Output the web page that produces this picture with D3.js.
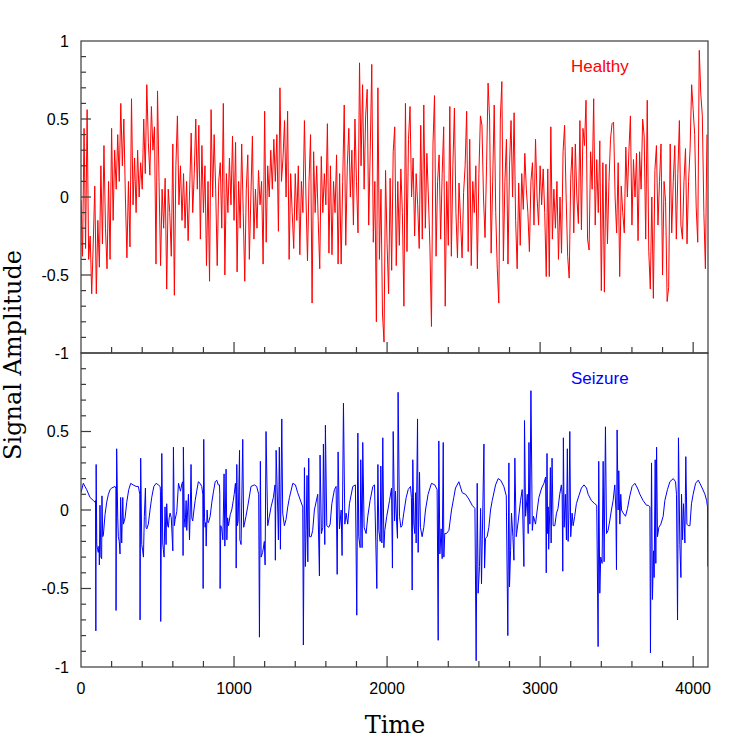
<!DOCTYPE html>
<html>
<head>
<meta charset="utf-8">
<script src="https://cdn.jsdelivr.net/npm/d3@7/dist/d3.min.js"></script>
<style>
  body { margin: 0; background: #fff; }
  .tick-label { font-family: 'Liberation Sans', Arial, sans-serif; font-size: 16px; fill: #000; }
  .axis-title { font-family: 'DejaVu Serif', serif; font-size: 24px; fill: #000; }
  .panel-label { font-family: 'Liberation Sans', Arial, sans-serif; font-size: 17px; }
</style>
</head>
<body>
<svg id="chart"></svg>
<script>
// ---- data ----
const timeMax = 4097;
const healthyStep = 10; // one value every 10 samples

// healthy EEG, t = 0, 10, 20 ... 4090 (one row = 100 samples)
const healthy = [
  -0.02, -0.38, 0.44, -0.33, 0.56, -0.4, -0.25, -0.62, -0.3, 0.07,
  -0.62, -0.15, -0.45, 0.2, -0.3, 0.33, -0.2, -0.46, 0.1, -0.4,
  0.44, -0.15, 0.3, 0.05, 0.4, 0.1, 0.6, 0.2, 0.5, 0.0,
  -0.39, 0.1, -0.32, 0.63, -0.05, 0.25, -0.1, 0.3, 0.0, 0.22,
  0.05, 0.5, 0.15, 0.72, 0.35, 0.14, 0.58, 0.3, 0.45, -0.43,
  0.68, 0.1, -0.44, 0.05, -0.2, 0.12, -0.59, 0.05, -0.1, -0.38,
  0.34, -0.63, 0.2, 0.52, -0.05, 0.2, -0.15, 0.15, -0.2, 0.1,
  -0.28, 0.05, 0.41, -0.1, 0.15, 0.5, 0.05, 0.46, -0.27, 0.33,
  -0.1, 0.2, -0.44, 0.1, -0.54, 0.56, 0.0, 0.4, 0.05, -0.44,
  0.1, 0.22, -0.2, 0.6, -0.5, 0.15, -0.1, 0.25, -0.05, 0.39,
  -0.15, 0.35, -0.48, 0.1, -0.2, 0.34, -0.1, -0.54, 0.05, 0.27,
  -0.4, 0.0, 0.39, -0.27, 0.05, -0.2, 0.17, -0.05, 0.1, -0.43,
  0.55, -0.29, 0.2, 0.0, 0.3, 0.05, 0.37, 0.1, 0.4, -0.22,
  0.7, 0.1, 0.25, 0.49, 0.0, 0.55, -0.4, 0.15, -0.1, -0.33,
  0.15, -0.15, 0.2, -0.37, 0.1, -0.1, 0.49, 0.0, -0.41, 0.1,
  0.4, -0.68, 0.29, -0.1, 0.2, -0.15, -0.46, 0.26, -0.1, 0.15,
  -0.05, 0.47, -0.36, 0.2, -0.37, 0.1, -0.1, 0.27, -0.43, 0.15,
  -0.43, 0.1, 0.59, -0.31, 0.2, 0.44, 0.0, 0.3, -0.18, 0.5,
  0.1, -0.23, 0.86, 0.2, 0.72, 0.05, 0.52, 0.69, -0.18, 0.3,
  0.85, -0.29, 0.1, -0.8, 0.7, -0.4, 0.05, -0.75, -0.93, 0.17,
  -0.3, -0.62, 0.12, -0.47, 0.29, 0.45, -0.44, 0.1, -0.31, 0.18,
  -0.1, -0.7, 0.6, -0.35, 0.37, 0.58, 0.0, 0.25, -0.25, 0.15,
  -0.05, -0.33, 0.46, -0.27, 0.59, -0.2, 0.28, 0.0, -0.32, -0.83,
  0.34, 0.65, -0.38, 0.1, 0.27, -0.27, 0.15, 0.45, -0.7, 0.1,
  -0.31, 0.58, -0.38, 0.2, 0.57, -0.1, -0.39, 0.09, -0.15, -0.39,
  0.03, 0.2, 0.55, -0.35, 0.37, -0.44, 0.1, -0.1, 0.2, -0.46,
  0.15, 0.52, 0.46, 0.0, -0.26, 0.2, 0.73, 0.5, -0.36, 0.1,
  0.59, -0.1, -0.46, -0.68, 0.5, 0.74, -0.41, 0.1, 0.37, -0.43,
  0.2, 0.49, 0.0, 0.54, -0.15, -0.46, 0.09, -0.31, 0.15, -0.08,
  0.28, 0.05, -0.1, -0.35, 0.1, 0.22, -0.18, 0.37, 0.0, -0.18,
  0.2, -0.05, 0.18, -0.1, -0.51, 0.18, -0.51, 0.45, -0.27, 0.05,
  -0.2, 0.1, -0.4, 0.0, -0.36, 0.29, 0.46, 0.0, -0.38, -0.52,
  0.12, 0.32, -0.23, 0.34, 0.0, -0.17, 0.49, -0.21, 0.44, 0.33,
  0.62, -0.27, -0.34, 0.29, 0.05, 0.63, -0.18, 0.24, -0.1, 0.36,
  -0.6, 0.22, -0.61, 0.21, -0.3, 0.1, 0.37, 0.47, 0.48, 0.0,
  -0.23, 0.22, -0.51, 0.07, -0.1, -0.23, 0.32, 0.0, 0.29, 0.52,
  -0.18, 0.24, 0.0, 0.28, -0.28, 0.29, 0.05, 0.5, 0.39, -0.27,
  0.62, -0.35, -0.59, 0.0, -0.65, 0.17, 0.33, -0.18, 0.1, 0.34,
  -0.5, 0.1, -0.03, -0.67, -0.58, 0.34, -0.23, 0.1, 0.33, -0.27,
  0.15, 0.49, -0.18, -0.27, 0.1, 0.31, -0.3, 0.1, 0.31, 0.72,
  0.56, 0.4, -0.07, -0.29, 0.94, 0.66, 0.52, -0.1, -0.46, 0.4
];

// seizure EEG as [time, amplitude] samples (dense at the spikes)
const seizure = [
  [0,0.11],[15,0.17],[37,0.13],[59,0.08],[81,0.06],[92,0.05],[95,0.06],[97,-0.77],[99,0.29],[103,-0.22],
  [108,-0.25],[113,-0.27],[118,-0.23],[120,-0.35],[124,0.03],[130,-0.3],[135,-0.31],[137,0.09],[142,-0.17],[146,-0.16],
  [157,-0.03],[168,0.05],[179,0.1],[190,0.13],[201,0.14],[222,0.15],[228,0.14],[229,-0.64],[233,0.39],[240,-0.05],
  [244,-0.17],[250,-0.2],[255,-0.28],[259,0.08],[266,-0.21],[273,0.08],[277,-0.09],[288,-0.05],[299,0.05],[312,0.13],
  [325,0.17],[340,0.16],[360,0.15],[375,0.15],[384,0.1],[386,-0.7],[390,0.33],[397,-0.22],[403,-0.26],[408,-0.3],
  [414,-0.04],[421,0.14],[425,-0.11],[430,-0.12],[440,-0.09],[451,0.0],[462,0.08],[476,0.15],[491,0.17],[505,0.16],
  [517,0.15],[519,0.12],[521,-0.71],[528,0.36],[534,-0.21],[538,-0.25],[543,-0.3],[549,0.02],[556,-0.22],[560,0.04],
  [566,-0.1],[571,-0.11],[576,-0.05],[582,-0.02],[590,-0.05],[600,-0.26],[604,0.4],[610,-0.1],[615,-0.06],[626,-0.01],
  [637,0.17],[650,0.12],[660,0.17],[665,0.18],[667,-0.29],[669,0.4],[675,-0.05],[680,-0.11],[687,0.06],[691,-0.13],
  [697,0.0],[702,0.1],[709,-0.19],[714,0.0],[719,0.29],[724,-0.05],[730,-0.07],[738,0.0],[746,0.06],[756,0.12],
  [767,0.18],[778,0.17],[789,0.15],[796,0.1],[798,-0.5],[802,0.45],[807,-0.05],[811,-0.11],[815,-0.08],[818,-0.23],
  [824,0.0],[829,-0.08],[833,-0.08],[844,-0.04],[855,0.05],[866,0.12],[877,0.18],[887,0.19],[897,0.16],[905,0.16],
  [907,0.1],[909,-0.5],[913,-0.1],[920,-0.12],[927,-0.19],[935,0.23],[940,-0.23],[948,0.26],[953,-0.19],[958,-0.05],
  [964,-0.1],[975,-0.03],[985,0.0],[995,0.06],[1001,0.1],[1009,0.17],[1012,0.1],[1014,-0.37],[1018,0.29],[1022,-0.1],
  [1027,-0.07],[1036,0.38],[1038,-0.19],[1046,-0.22],[1057,0.45],[1063,-0.11],[1068,-0.09],[1078,-0.04],[1089,0.02],[1111,0.15],
  [1133,0.16],[1148,0.15],[1161,0.1],[1166,-0.81],[1172,0.31],[1177,-0.3],[1187,-0.27],[1198,-0.2],[1203,-0.35],[1209,0.5],
  [1220,-0.1],[1231,-0.04],[1242,0.02],[1257,0.08],[1268,0.16],[1270,-0.32],[1275,0.38],[1286,-0.02],[1290,-0.19],[1296,0.4],
  [1303,-0.25],[1312,0.58],[1318,-0.02],[1329,-0.1],[1340,-0.06],[1351,0.02],[1362,0.08],[1384,0.17],[1401,0.16],[1416,0.11],
  [1438,0.05],[1449,0.02],[1453,-0.86],[1460,0.27],[1466,-0.36],[1471,-0.13],[1477,0.22],[1482,-0.33],[1488,0.33],[1493,-0.17],
  [1504,-0.17],[1514,-0.13],[1525,0.0],[1547,0.1],[1558,-0.42],[1562,0.35],[1571,-0.15],[1580,-0.11],[1584,0.42],[1593,-0.22],
  [1597,0.54],[1606,-0.1],[1619,-0.11],[1628,-0.09],[1639,0.04],[1656,0.13],[1667,0.15],[1674,-0.41],[1680,0.37],[1689,-0.12],
  [1700,0.0],[1706,-0.29],[1715,0.68],[1724,-0.09],[1732,-0.02],[1743,-0.09],[1754,0.04],[1776,0.15],[1793,0.16],[1802,-0.67],
  [1809,0.49],[1815,-0.17],[1824,-0.24],[1828,0.32],[1837,-0.24],[1841,0.43],[1850,-0.11],[1863,-0.15],[1874,-0.04],[1889,0.06],
  [1907,0.15],[1918,0.16],[1933,-0.5],[1940,0.29],[1946,-0.13],[1955,-0.2],[1959,0.28],[1966,-0.21],[1972,0.46],[1979,-0.24],
  [1985,-0.13],[1998,-0.04],[2016,0.06],[2029,0.14],[2035,-0.37],[2040,0.5],[2049,-0.07],[2055,0.12],[2062,-0.07],[2068,-0.18],
  [2072,0.75],[2081,-0.04],[2090,-0.11],[2098,-0.1],[2109,-0.02],[2125,0.08],[2138,0.13],[2153,0.15],[2159,0.08],[2164,-0.51],
  [2168,0.32],[2175,-0.09],[2181,-0.15],[2186,0.11],[2190,-0.21],[2199,0.58],[2203,-0.27],[2212,0.24],[2218,-0.11],[2229,-0.17],
  [2240,-0.11],[2251,0.0],[2268,0.1],[2290,0.17],[2312,0.16],[2327,0.13],[2334,-0.83],[2338,0.44],[2345,-0.28],[2353,-0.12],
  [2360,-0.31],[2367,0.43],[2371,-0.3],[2377,-0.15],[2388,-0.15],[2404,-0.13],[2421,0.0],[2436,0.08],[2447,0.14],[2469,0.18],
  [2491,0.11],[2513,0.1],[2534,0.07],[2556,0.03],[2574,0.01],[2582,-0.96],[2589,0.17],[2595,-0.53],[2604,-0.36],[2611,0.01],
  [2617,-0.47],[2622,-0.19],[2633,0.42],[2637,-0.37],[2643,-0.18],[2654,-0.17],[2665,-0.11],[2676,0.0],[2687,0.06],[2709,0.16],
  [2726,0.2],[2742,0.19],[2763,0.15],[2779,0.09],[2789,-0.8],[2796,0.3],[2800,-0.49],[2807,-0.26],[2813,-0.02],[2822,-0.17],
  [2829,-0.32],[2835,0.33],[2844,-0.17],[2857,-0.07],[2872,0.06],[2883,0.13],[2894,-0.36],[2898,0.57],[2905,-0.04],[2916,0.1],
  [2922,-0.15],[2927,0.43],[2933,-0.09],[2940,0.76],[2949,-0.13],[2957,-0.04],[2970,-0.09],[2981,0.0],[2992,0.08],[3010,0.14],
  [3025,0.17],[3036,0.21],[3040,-0.4],[3045,0.36],[3049,-0.15],[3053,0.02],[3056,-0.25],[3063,0.0],[3067,0.27],[3072,-0.21],
  [3078,0.33],[3085,-0.1],[3096,-0.1],[3107,-0.02],[3117,0.01],[3128,0.1],[3139,0.16],[3144,0.1],[3148,-0.39],[3152,0.46],
  [3157,-0.11],[3165,0.1],[3172,-0.19],[3178,0.39],[3183,-0.2],[3189,0.0],[3194,0.5],[3200,-0.17],[3209,-0.02],[3216,-0.1],
  [3226,-0.04],[3237,0.04],[3253,0.09],[3270,0.14],[3287,0.16],[3303,0.14],[3314,0.1],[3335,0.06],[3357,0.04],[3370,0.03],
  [3379,-0.87],[3383,0.31],[3390,-0.53],[3396,-0.3],[3405,-0.34],[3412,0.31],[3418,-0.33],[3427,0.53],[3434,-0.15],[3444,-0.13],
  [3455,-0.07],[3466,0.0],[3477,0.06],[3488,0.16],[3495,0.0],[3499,-0.38],[3503,0.51],[3510,0.0],[3514,0.25],[3521,-0.09],
  [3527,0.1],[3532,0.0],[3543,-0.02],[3558,-0.04],[3571,0.01],[3586,0.09],[3601,0.15],[3619,0.17],[3636,0.14],[3652,0.1],
  [3673,0.06],[3695,0.03],[3706,0.03],[3717,0.02],[3721,-0.91],[3728,0.3],[3734,-0.57],[3741,-0.26],[3745,-0.43],[3752,0.32],
  [3756,-0.34],[3761,0.4],[3767,-0.17],[3776,-0.11],[3789,-0.09],[3804,-0.04],[3815,0.06],[3832,0.13],[3848,0.18],[3870,0.2],
  [3885,0.18],[3891,0.1],[3898,-0.7],[3904,0.46],[3913,-0.22],[3920,-0.43],[3924,0.1],[3931,-0.19],[3937,0.04],[3946,-0.21],
  [3952,0.34],[3959,-0.09],[3968,-0.1],[3979,-0.1],[3989,0.04],[4000,0.1],[4016,0.17],[4033,0.19],[4044,0.17],[4059,0.14],
  [4077,0.1],[4088,0.06],[4094,0.02],[4096,-0.36]
];

const xTickLabels = [0, 1000, 2000, 3000, 4000];
const yTickLabelsTop = [1, 0.5, 0, -0.5, -1];
const yTickLabelsBottom = [0.5, 0, -0.5, -1];
const panelNames = ['Healthy', 'Seizure'];
const panelColors = ['#ff0000', '#0000ff'];

// ---- layout ----
const W = 747, H = 747;
const pLeft = 81, pRight = 708, pTop = 41, pMid = 353, pBottom = 667;
const frameC = '#3a3a3a';

const svg = d3.select('#chart').attr('width', W).attr('height', H);

const x = d3.scaleLinear().domain([0, timeMax]).range([pLeft, pRight]);
const yTop = d3.scaleLinear().domain([-1, 1]).range([pMid, pTop]);
const yBot = d3.scaleLinear().domain([-1, 1]).range([pBottom, pMid]);

const defs = svg.append('defs');
[['clipTop', pTop, pMid], ['clipBot', pMid, pBottom]].forEach(([id, y0, y1]) => {
  defs.append('clipPath').attr('id', id)
    .append('rect').attr('x', pLeft).attr('y', y0).attr('width', pRight - pLeft).attr('height', y1 - y0);
});

// signals
const healthyPts = healthy.map((v, i) => [i * healthyStep, v]);

const lineTop = d3.line().x(d => x(d[0])).y(d => yTop(d[1]));
const lineBot = d3.line().x(d => x(d[0])).y(d => yBot(d[1]));

svg.append('path').datum(healthyPts).attr('d', lineTop)
  .attr('clip-path', 'url(#clipTop)')
  .attr('fill', 'none').attr('stroke', panelColors[0]).attr('stroke-width', 1);

svg.append('path').datum(seizure).attr('d', lineBot)
  .attr('clip-path', 'url(#clipBot)')
  .attr('fill', 'none').attr('stroke', panelColors[1]).attr('stroke-width', 1);

// frames
const fr = svg.append('g').attr('fill', 'none').attr('stroke', frameC).attr('stroke-width', 1.2);
fr.append('rect').attr('x', pLeft).attr('y', pTop).attr('width', pRight - pLeft).attr('height', pMid - pTop);
fr.append('rect').attr('x', pLeft).attr('y', pMid).attr('width', pRight - pLeft).attr('height', pBottom - pMid);

// ticks
const tk = svg.append('g').attr('stroke', frameC).attr('stroke-width', 1.2);
const xMinor = d3.range(200, timeMax, 200);
[pMid, pBottom].forEach((yb) => {
  xMinor.forEach((t) => {
    const len = t % 1000 === 0 ? 11 : 6;
    tk.append('line').attr('x1', x(t)).attr('x2', x(t)).attr('y1', yb).attr('y2', yb - len);
  });
});
const yMinor = d3.range(-9, 10).map(d => d / 10);
[yTop, yBot].forEach((ys) => {
  yMinor.forEach((v) => {
    const len = Math.round(Math.abs(v * 10)) % 5 === 0 ? 10 : 5;
    tk.append('line').attr('x1', pLeft).attr('x2', pLeft + len).attr('y1', ys(v)).attr('y2', ys(v));
  });
});

// tick labels
const lab = svg.append('g').attr('class', 'tick-label');
yTickLabelsTop.forEach((v) => {
  lab.append('text').attr('x', 69).attr('y', yTop(v)).attr('dy', '0.36em')
    .attr('text-anchor', 'end').text(v);
});
yTickLabelsBottom.forEach((v) => {
  lab.append('text').attr('x', 69).attr('y', yBot(v)).attr('dy', '0.36em')
    .attr('text-anchor', 'end').text(v);
});
xTickLabels.forEach((t) => {
  lab.append('text').attr('x', x(t)).attr('y', 694)
    .attr('text-anchor', 'middle').text(t);
});

// panel labels
svg.append('text').attr('class', 'panel-label').attr('x', 571).attr('y', 72)
  .attr('fill', panelColors[0]).text(panelNames[0]);
svg.append('text').attr('class', 'panel-label').attr('x', 571).attr('y', 384)
  .attr('fill', panelColors[1]).text(panelNames[1]);

// axis titles
svg.append('text').attr('class', 'axis-title')
  .attr('transform', 'translate(21,355) rotate(-90)')
  .attr('text-anchor', 'middle').text('Signal Amplitude');
svg.append('text').attr('class', 'axis-title')
  .attr('x', 395).attr('y', 733).attr('text-anchor', 'middle').text('Time');
</script>
</body>
</html>
